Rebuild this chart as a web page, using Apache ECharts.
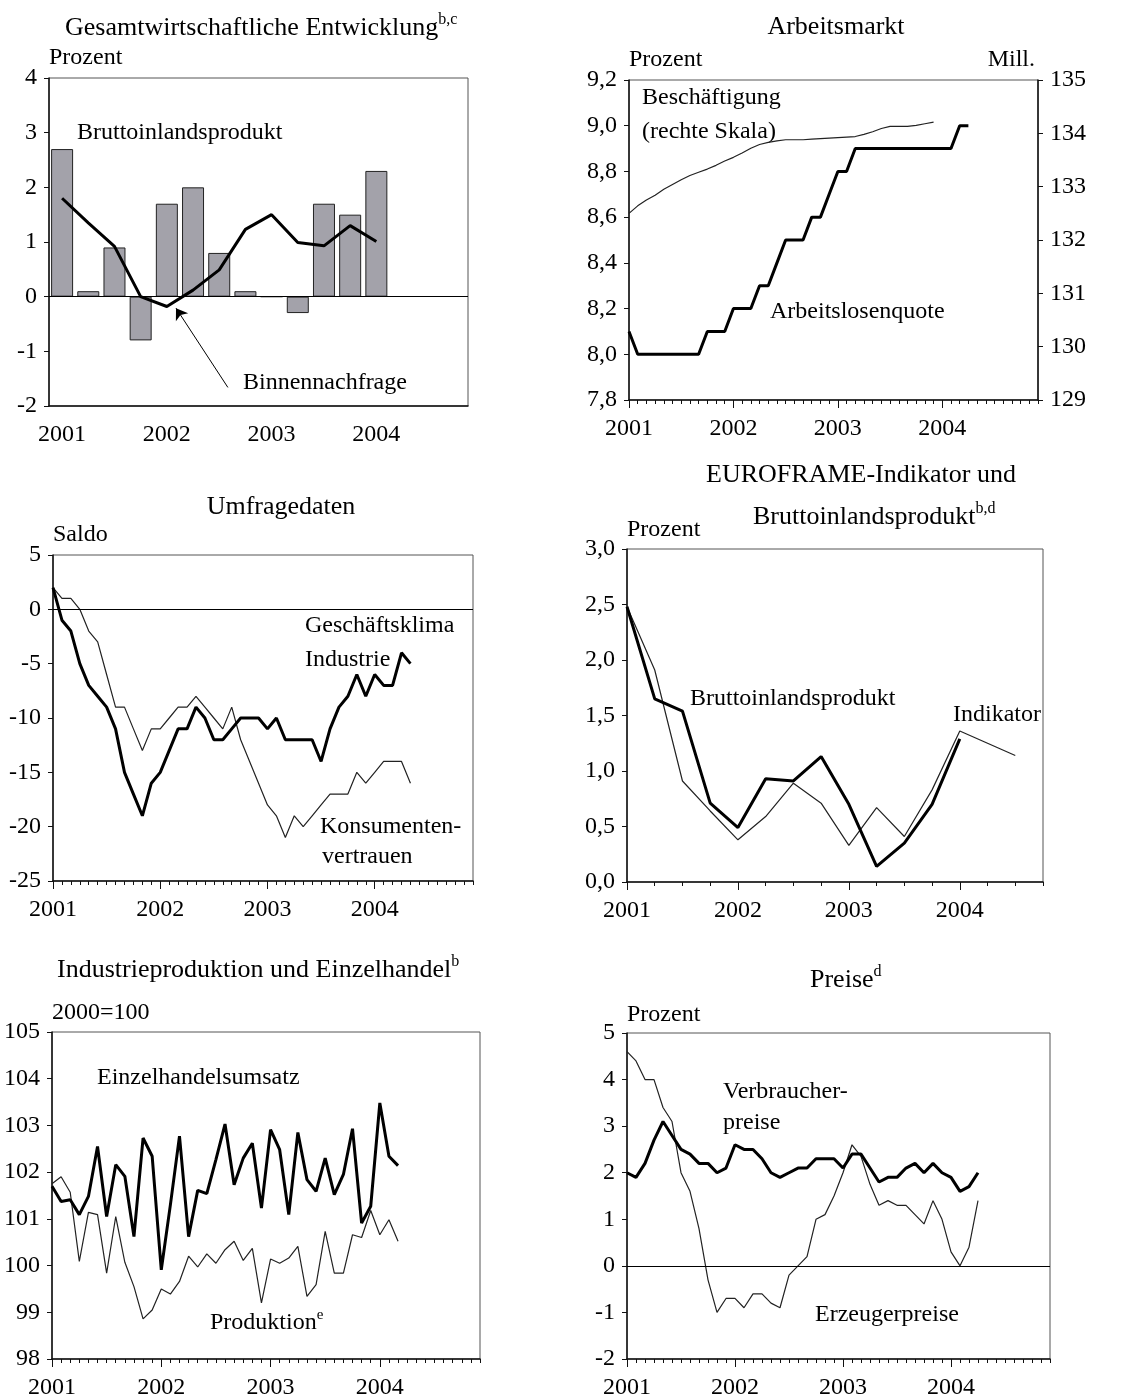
<!DOCTYPE html>
<html>
<head>
<meta charset="utf-8">
<script src="https://cdn.jsdelivr.net/npm/echarts@6/dist/echarts.min.js"></script>
<style>
  html, body { margin: 0; padding: 0; background: #fff; }
  #chart { width: 1141px; height: 1400px; }
</style>
</head>
<body>
<div id="chart"></div>
<script>
// ── categories ─────────────────────────────────────────────
const YEARS = ["2001", "2002", "2003", "2004"];
const QUARTERS = YEARS.flatMap((y) => ["Q1", "Q2", "Q3", "Q4"].map((q) => y + q));
const MONTHS = YEARS.flatMap((y) =>
  ["01", "02", "03", "04", "05", "06", "07", "08", "09", "10", "11", "12"].map((m) => y + "-" + m));

// ── Gesamtwirtschaftliche Entwicklung (quarterly) ──────────
const bipBars = [2.7, 0.1, 0.9, -0.8, 1.7, 2.0, 0.8, 0.1, 0.0, -0.3, 1.7, 1.5, 2.3];
const binnennachfrage = [1.8, 1.35, 0.92, 0.0, -0.18, 0.12, 0.49, 1.23, 1.5, 0.99, 0.93, 1.3, 1.01];
const arrowFrom = [6.33, -1.66]; // quarter index, percent
const arrowTo = [4.35, -0.21];

// ── Arbeitsmarkt (monthly) ─────────────────────────────────
const arbeitslosenquote = [
  8.1, 8.0, 8.0, 8.0, 8.0, 8.0, 8.0, 8.0, 8.0, 8.1, 8.1, 8.1,
  8.2, 8.2, 8.2, 8.3, 8.3, 8.4, 8.5, 8.5, 8.5, 8.6, 8.6, 8.7,
  8.8, 8.8, 8.9, 8.9, 8.9, 8.9, 8.9, 8.9, 8.9, 8.9, 8.9, 8.9,
  8.9, 8.9, 9.0, 9.0];
const beschaeftigung = [
  132.50, 132.64, 132.75, 132.84, 132.95, 133.04, 133.13, 133.21, 133.27, 133.33, 133.40, 133.48,
  133.55, 133.63, 133.72, 133.79, 133.83, 133.86, 133.88, 133.88, 133.88, 133.89, 133.90, 133.91,
  133.92, 133.93, 133.94, 133.98, 134.03, 134.09, 134.13, 134.13, 134.13, 134.15, 134.18, 134.21];

// ── Umfragedaten (monthly) ─────────────────────────────────
const geschaeftsklima = [
  2, -1, -2, -5, -7, -8, -9, -11, -15, -17, -19, -16,
  -15, -13, -11, -11, -9, -10, -12, -12, -11, -10, -10, -10,
  -11, -10, -12, -12, -12, -12, -14, -11, -9, -8, -6, -8,
  -6, -7, -7, -4, -5];
const konsumentenvertrauen = [
  2, 1, 1, 0, -2, -3, -6, -9, -9, -11, -13, -11,
  -11, -10, -9, -9, -8, -9, -10, -11, -9, -12, -14, -16,
  -18, -19, -21, -19, -20, -19, -18, -17, -17, -17, -15, -16,
  -15, -14, -14, -14, -16];

// ── EUROFRAME (quarterly) ──────────────────────────────────
const efBip = [2.48, 1.65, 1.54, 0.71, 0.49, 0.93, 0.91, 1.13, 0.70, 0.14, 0.35, 0.70, 1.29];
const efIndikator = [2.48, 1.91, 0.91, 0.64, 0.38, 0.59, 0.89, 0.71, 0.33, 0.67, 0.41, 0.83, 1.36, 1.25, 1.14];

// ── Industrieproduktion und Einzelhandel (monthly) ─────────
const einzelhandel = [
  101.70, 101.37, 101.41, 101.09, 101.48, 102.55, 101.05, 102.16, 101.91, 100.62, 102.73, 102.34,
  99.91, 101.30, 102.77, 100.62, 101.61, 101.54, 102.27, 103.03, 101.73, 102.30, 102.62, 101.23,
  102.91, 102.48, 101.09, 102.85, 101.84, 101.59, 102.30, 101.52, 101.95, 102.93, 100.91, 101.27,
  103.48, 102.34, 102.14];
const produktion = [
  101.75, 101.90, 101.57, 100.09, 101.14, 101.09, 99.84, 101.05, 100.07, 99.55, 98.86, 99.05,
  99.50, 99.39, 99.66, 100.20, 99.97, 100.25, 100.05, 100.34, 100.52, 100.11, 100.37, 99.20,
  100.14, 100.05, 100.16, 100.41, 99.34, 99.59, 100.73, 99.84, 99.84, 100.66, 100.60, 101.18,
  100.66, 100.98, 100.52];

// ── Preise (monthly) ───────────────────────────────────────
const verbraucherpreise = [
  2.0, 1.9, 2.2, 2.7, 3.1, 2.8, 2.5, 2.4, 2.2, 2.2, 2.0, 2.1,
  2.6, 2.5, 2.5, 2.3, 2.0, 1.9, 2.0, 2.1, 2.1, 2.3, 2.3, 2.3,
  2.1, 2.4, 2.4, 2.1, 1.8, 1.9, 1.9, 2.1, 2.2, 2.0, 2.2, 2.0,
  1.9, 1.6, 1.7, 2.0];
const erzeugerpreise = [
  4.6, 4.4, 4.0, 4.0, 3.4, 3.1, 2.0, 1.6, 0.8, -0.3, -1.0, -0.7,
  -0.7, -0.9, -0.6, -0.6, -0.8, -0.9, -0.2, 0.0, 0.2, 1.0, 1.1, 1.5,
  2.0, 2.6, 2.35, 1.75, 1.3, 1.4, 1.3, 1.3, 1.1, 0.9, 1.4, 1.0,
  0.3, 0.0, 0.4, 1.4];

// ── helpers ────────────────────────────────────────────────
const FONT = '"Liberation Serif", "Times New Roman", serif';
const INK = "#111";
const grids = [], xAxes = [], yAxes = [], series = [], texts = [];

const comma1 = (v) => v.toFixed(1).replace(".", ",");

// two category x axes per grid: short ticks for every period, long ticks + labels per year
function addGrid(box, cats, boundaryGap, perYear) {
  const gi = grids.length;
  grids.push({ left: box[0], top: box[1], width: box[2], height: box[3],
    show: true, borderColor: "#555", borderWidth: 1 });
  const base = { type: "category", gridIndex: gi, data: cats, boundaryGap, position: "bottom",
    splitLine: { show: false } };
  xAxes.push({ ...base,
    axisLine: { onZero: false, lineStyle: { color: INK, width: 1.5 } },
    axisTick: { interval: 0, length: 4, alignWithLabel: true, lineStyle: { color: INK } },
    axisLabel: { show: false } });
  xAxes.push({ ...base,
    axisLine: { show: false, onZero: false },
    axisTick: { interval: perYear - 1, length: 8, alignWithLabel: true, lineStyle: { color: INK } },
    axisLabel: { interval: perYear - 1, margin: 17, color: "#000", fontFamily: FONT, fontSize: 24,
      formatter: (v) => v.slice(0, 4) } });
  return gi;
}

function addY(gi, min, max, interval, fmt, position) {
  yAxes.push({ type: "value", gridIndex: gi, min, max, interval, position: position || "left",
    axisLine: { show: true, onZero: false, lineStyle: { color: INK, width: 1.5 } },
    axisTick: { show: true, length: 5, lineStyle: { color: INK } },
    axisLabel: { color: "#000", fontFamily: FONT, fontSize: 24, margin: 12, formatter: fmt },
    splitLine: { show: false } });
  return yAxes.length - 1;
}

function line(gi, yi, data, thick, extra) {
  series.push({ type: "line", xAxisIndex: gi * 2, yAxisIndex: yi, data,
    showSymbol: false, symbol: "none", smooth: false, z: thick ? 4 : 3,
    lineStyle: { color: thick ? "#000" : "#222", width: thick ? 3 : 1.2 }, ...(extra || {}) });
}

const zeroLine = { silent: true, symbol: "none", label: { show: false },
  lineStyle: { color: "#000", width: 1, type: "solid" }, data: [{ yAxis: 0 }] };

function label(x, y, text, size, align) {
  texts.push({ type: "text", x, y, silent: true,
    style: { text, font: `${size || 24}px ${FONT}`, fill: "#000",
      textAlign: align || "left", textVerticalAlign: "middle" } });
}
function supLabel(x, y, main, sup, size, align) {
  texts.push({ type: "text", x, y, silent: true,
    style: { text: `{t|${main}}{s|${sup}}`, font: `${size}px ${FONT}`, fill: "#000",
      textAlign: align || "left", textVerticalAlign: "middle",
      rich: {
        t: { fontFamily: FONT, fontSize: size, lineHeight: size + 6, fill: "#000" },
        s: { fontFamily: FONT, fontSize: Math.round(size * 0.62), verticalAlign: "top", fill: "#000" } } } });
}

// ── 1: Gesamtwirtschaftliche Entwicklung ───────────────────
const g1 = addGrid([49, 78, 419, 328], QUARTERS, true, 4);
const y1 = addY(g1, -2, 4, 1, (v) => String(v));
series.push({ type: "bar", xAxisIndex: g1 * 2, yAxisIndex: y1, data: bipBars, barWidth: 22,
  itemStyle: { color: "#a3a2aa", borderColor: "#222", borderWidth: 1 }, markLine: zeroLine, z: 2 });
line(g1, y1, binnennachfrage, true);
supLabel(65, 28, "Gesamtwirtschaftliche Entwicklung", "b,c", 26);
label(49, 58, "Prozent");
label(77, 133, "Bruttoinlandsprodukt");
label(243, 383, "Binnennachfrage");

// ── 2: Arbeitsmarkt ────────────────────────────────────────
const g2 = addGrid([629, 80, 409, 320], MONTHS, false, 12);
const y2 = addY(g2, 7.8, 9.2, 0.2, comma1);
const y2r = addY(g2, 129, 135, 1, (v) => String(v), "right");
line(g2, y2, arbeitslosenquote, true);
line(g2, y2r, beschaeftigung, false);
label(836, 27, "Arbeitsmarkt", 26, "center");
label(629, 60, "Prozent");
label(1035, 60, "Mill.", 24, "right");
label(642, 98, "Beschäftigung");
label(642, 132, "(rechte Skala)");
label(770, 312, "Arbeitslosenquote");

// ── 3: Umfragedaten ────────────────────────────────────────
const g3 = addGrid([53, 555, 420, 326], MONTHS, false, 12);
const y3 = addY(g3, -25, 5, 5, (v) => String(v));
line(g3, y3, geschaeftsklima, true);
line(g3, y3, konsumentenvertrauen, false, { markLine: zeroLine });
label(281, 507, "Umfragedaten", 26, "center");
label(53, 535, "Saldo");
label(305, 626, "Geschäftsklima");
label(305, 660, "Industrie");
label(320, 827, "Konsumenten-");
label(322, 857, "vertrauen");

// ── 4: EUROFRAME ───────────────────────────────────────────
const g4 = addGrid([627, 549, 416, 333], QUARTERS, false, 4);
const y4 = addY(g4, 0, 3, 0.5, comma1);
line(g4, y4, efBip, true);
line(g4, y4, efIndikator, false);
label(861, 475, "EUROFRAME-Indikator und", 26, "center");
supLabel(753, 517, "Bruttoinlandsprodukt", "b,d", 26);
label(627, 530, "Prozent");
label(690, 699, "Bruttoinlandsprodukt");
label(953, 715, "Indikator");

// ── 5: Industrieproduktion und Einzelhandel ────────────────
const g5 = addGrid([52, 1032, 428, 327], MONTHS, false, 12);
const y5 = addY(g5, 98, 105, 1, (v) => String(v));
line(g5, y5, einzelhandel, true);
line(g5, y5, produktion, false);
supLabel(57, 970, "Industrieproduktion und Einzelhandel", "b", 26);
label(52, 1013, "2000=100");
label(97, 1078, "Einzelhandelsumsatz");
supLabel(210, 1323, "Produktion", "e", 24);

// ── 6: Preise ──────────────────────────────────────────────
const g6 = addGrid([627, 1033, 423, 329], MONTHS, false, 12);
const y6 = addY(g6, -2, 5, 1, (v) => String(v));
line(g6, y6, verbraucherpreise, true);
line(g6, y6, erzeugerpreise, false, { markLine: zeroLine });
supLabel(810, 980, "Preise", "d", 26);
label(627, 1015, "Prozent");
label(723, 1092, "Verbraucher-");
label(723, 1123, "preise");
label(815, 1315, "Erzeugerpreise");

// hidden value axis on grid 1, only for the annotation arrow
xAxes.push({ type: "value", gridIndex: g1, min: -0.5, max: QUARTERS.length - 0.5, show: false,
  axisLine: { onZero: false } });
series.push({ type: "line", xAxisIndex: xAxes.length - 1, yAxisIndex: y1, data: [],
  markLine: { silent: true, symbol: ["none", "arrow"], symbolSize: 11, label: { show: false },
    lineStyle: { color: "#000", width: 1, type: "solid" },
    data: [[{ coord: arrowFrom }, { coord: arrowTo }]] } });

const chart = echarts.init(document.getElementById("chart"), null, { renderer: "canvas" });
chart.setOption({
  animation: false,
  backgroundColor: "#fff",
  grid: grids,
  xAxis: xAxes,
  yAxis: yAxes,
  series,
  graphic: texts,
});
</script>
</body>
</html>
